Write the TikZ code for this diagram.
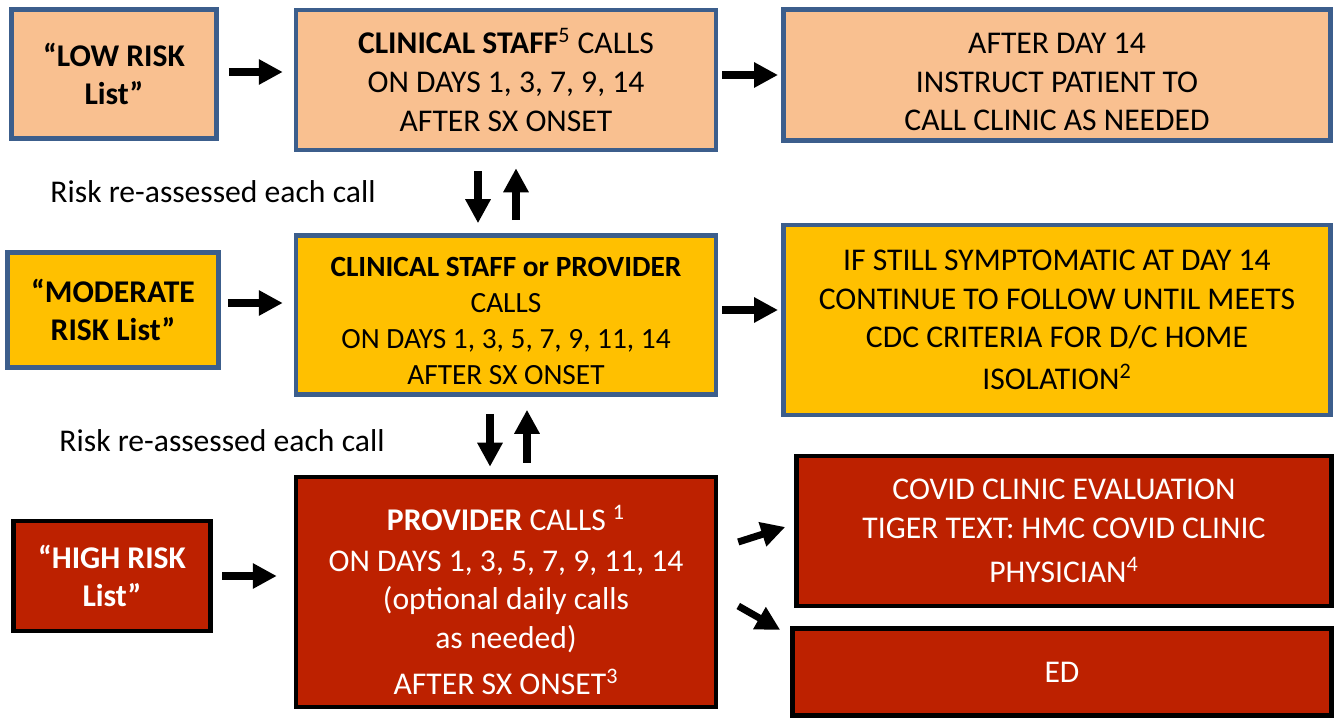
\documentclass[tikz,border=0pt]{standalone}
\usepackage{fontspec}
\setmainfont{Carlito}
\usetikzlibrary{arrows.meta,positioning}
\definecolor{lowfill}{RGB}{249,192,144}
\definecolor{modfill}{RGB}{255,192,0}
\definecolor{highfill}{RGB}{189,33,0}
\definecolor{boxblue}{RGB}{60,94,140}

\tikzset{
  box/.style={rectangle, line width=2.6pt, align=center, inner sep=2pt, font=\fontsize{18}{22}\selectfont},
  lowbox/.style={box, draw=boxblue, fill=lowfill},
  modbox/.style={box, draw=boxblue, fill=modfill},
  highbox/.style={box, draw=black, fill=highfill, text=white},
  listfont/.style={font=\bfseries\fontsize{18}{22}\selectfont},
  fatarrow/.style={line width=4pt, -{Triangle[length=0.48cm,width=0.48cm]}},
}

\begin{document}
\begin{tikzpicture}[x=0.02cm,y=-0.02cm]
\useasboundingbox (0,0) rectangle (1335,719);
% low risk row
\node[lowbox, listfont, minimum width=4.1cm, minimum height=2.58cm] (lowlist) at (114,74) {“LOW RISK\\ List”};
\node[lowbox, minimum width=8.4cm, minimum height=2.8cm] (lowstaff) at (506,80) {\textbf{CLINICAL STAFF}\textsuperscript{5} CALLS\\ ON DAYS 1, 3, 7, 9, 14\\ AFTER SX ONSET};
\node[lowbox, minimum width=10.95cm, minimum height=2.62cm] (lowafter) at (1057,75) {\rule{0pt}{19.6pt}AFTER DAY 14\\ INSTRUCT PATIENT TO\\ CALL CLINIC AS NEEDED};
\node[font=\fontsize{18}{22}\selectfont] (risknoteA) at (213,192) {Risk re-assessed each call};
% moderate risk row
\node[modbox, listfont, minimum width=4.22cm, minimum height=2.3cm] (modlist) at (113,310) {“MODERATE\\ RISK List”};
\node[modbox, font=\fontsize{16.7}{20.5}\selectfont, minimum width=8.4cm, minimum height=3.18cm] (modstaff) at (506,315) {\rule{0pt}{17.5pt}\textbf{CLINICAL STAFF or PROVIDER}\\ CALLS\\ ON DAYS 1, 3, 5, 7, 9, 11, 14\\ AFTER SX ONSET};
\node[modbox, minimum width=10.95cm, minimum height=3.8cm] (modright) at (1057,320) {IF STILL SYMPTOMATIC AT DAY 14\\ CONTINUE TO FOLLOW UNTIL MEETS\\ CDC CRITERIA FOR D/C HOME\\[2pt] ISOLATION\textsuperscript{2}};
\node[font=\fontsize{18}{22}\selectfont] (risknoteB) at (222,441) {Risk re-assessed each call};
% high risk row
\node[highbox, listfont, minimum width=3.95cm, minimum height=2.2cm] (highlist) at (112,576) {“HIGH RISK\\ List”};
\node[highbox, minimum width=8.4cm, minimum height=4.6cm] (highprov) at (506,592) {\rule{0pt}{23.5pt}\textbf{PROVIDER} CALLS \textsuperscript{1}\\[1pt] ON DAYS 1, 3, 5, 7, 9, 11, 14\\ (optional daily calls\\ as needed)\\[4pt] AFTER SX ONSET\textsuperscript{3}};
\node[highbox, minimum width=10.7cm, minimum height=3.0cm] (covid) at (1064,531) {COVID CLINIC EVALUATION\\ TIGER TEXT: HMC COVID CLINIC\\[3pt] PHYSICIAN\textsuperscript{4}};
\node[highbox, minimum width=10.78cm, minimum height=1.75cm] (ed) at (1062,672) {ED};
% horizontal arrows
\draw[fatarrow, shorten <=0.2cm, shorten >=0.22cm] ([yshift=0.04cm]lowlist.east) -- ([yshift=0.04cm]lowlist.east -| lowstaff.west);
\draw[fatarrow, shorten <=0.08cm, shorten >=0.06cm] (lowstaff.east |- lowafter) -- (lowafter.west);
\draw[fatarrow, shorten <=0.14cm, shorten >=0.22cm] ([yshift=0.14cm]modlist.east) -- ([yshift=0.14cm]modlist.east -| modstaff.west);
\draw[fatarrow, shorten <=0.08cm, shorten >=0.06cm] ([yshift=0.1cm]modstaff.east) -- ([yshift=0.1cm]modstaff.east -| modright.west);
\draw[fatarrow, shorten <=0.18cm, shorten >=0.34cm] (highlist.east) -- (highlist.east -| highprov.west);
% diagonal arrows
\draw[fatarrow] ([shift={(20,-50)}]highprov.east) -- ([shift={(-9,-4)}]covid.west);
\draw[fatarrow] ([shift={(20,14)}]highprov.east) -- ([shift={(-10,4)}]ed.north west);
% up and down arrows between rows
\draw[fatarrow, shorten <=0.38cm, shorten >=0.2cm] ([xshift=-0.56cm]lowstaff.south) -- ([xshift=-0.56cm]lowstaff.south |- modstaff.north);
\draw[fatarrow, shorten <=0.26cm, shorten >=0.32cm] ([xshift=0.2cm]modstaff.north) -- ([xshift=0.2cm]modstaff.north |- lowstaff.south);
\draw[fatarrow, shorten <=0.34cm, shorten >=0.16cm] ([xshift=-0.32cm]modstaff.south) -- ([xshift=-0.32cm]modstaff.south |- highprov.north);
\draw[fatarrow, shorten <=0.24cm, shorten >=0.26cm] ([xshift=0.42cm]highprov.north) -- ([xshift=0.42cm]highprov.north |- modstaff.south);
\end{tikzpicture}
\end{document}
